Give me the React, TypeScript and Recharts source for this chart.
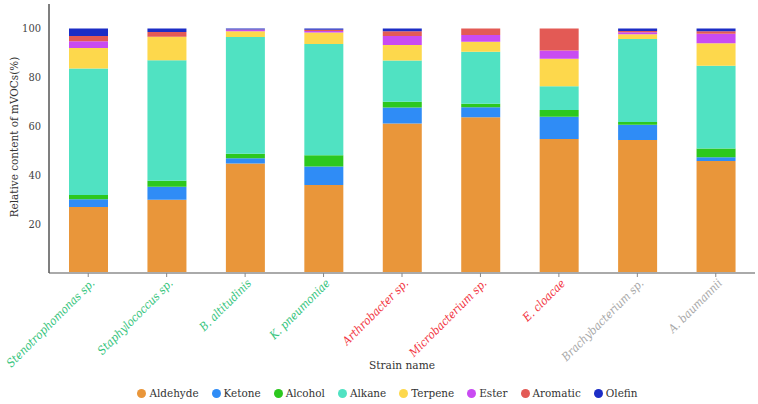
import { BarChart, Bar, XAxis, YAxis, Legend } from "recharts";

const strains = [
  "Stenotrophomonas sp.",
  "Staphylococcus sp.",
  "B. altitudinis",
  "K. pneumoniae",
  "Arthrobacter sp.",
  "Microbacterium sp.",
  "E. cloacae",
  "Brachybacterium sp.",
  "A. baumannii",
];
const strainColors = [
  "#34c47c", "#34c47c", "#34c47c", "#34c47c",
  "#f2353f", "#f2353f", "#f2353f",
  "#a8a8a8", "#a8a8a8",
];

const aldehyde = [27.0, 30.0, 44.8, 36.0, 61.1, 63.7, 54.8, 54.4, 45.8];
const ketone = [3.2, 5.3, 2.1, 7.6, 6.6, 4.1, 9.1, 6.2, 1.5];
const alcohol = [1.7, 2.4, 1.9, 4.5, 2.3, 1.4, 2.8, 1.1, 3.6];
const alkane = [51.7, 49.3, 47.7, 45.5, 16.9, 21.3, 9.7, 34.0, 33.9];
const terpene = [8.4, 9.6, 2.4, 4.7, 6.3, 4.1, 11.2, 1.9, 9.2];
const ester = [2.8, 0, 0.6, 0.7, 3.7, 2.7, 3.4, 0.8, 3.8];
const aromatic = [2.1, 2.0, 0.1, 0.5, 2.0, 2.7, 9.0, 0.6, 1.1];
const olefin = [3.1, 1.4, 0.4, 0.5, 1.1, 0, 0, 1.0, 1.1];

const yTicks = [20, 40, 60, 80, 100];

const series = [
  { key: "Aldehyde", values: aldehyde, color: "#e9963a" },
  { key: "Ketone", values: ketone, color: "#2f8cf6" },
  { key: "Alcohol", values: alcohol, color: "#2cc81e" },
  { key: "Alkane", values: alkane, color: "#50e2c2" },
  { key: "Terpene", values: terpene, color: "#fdd84c" },
  { key: "Ester", values: ester, color: "#c94bf2" },
  { key: "Aromatic", values: aromatic, color: "#e35a55" },
  { key: "Olefin", values: olefin, color: "#1c2dc6" },
];

const data = strains.map((name, i) => {
  const row: Record<string, string | number> = { name };
  series.forEach((s) => (row[s.key] = s.values[i]));
  return row;
});

// only DejaVu Serif resolves in the sandbox; the condensed cut is closest to Times widths
const FONT = "'DejaVu Serif Condensed', 'DejaVu Serif'";

function StrainTick(props: any) {
  const { x, y, payload } = props;
  const tx = x + 7;
  const ty = y + 5;
  return (
    <text
      x={tx}
      y={ty}
      transform={`rotate(-45, ${tx}, ${ty})`}
      textAnchor="end"
      fontStyle="italic"
      fontSize={11.6}
      style={{ fontFamily: FONT }}
      fill={strainColors[payload.index]}
    >
      {payload.value}
    </text>
  );
}

function YLabel() {
  return (
    <text
      x={18}
      y={137}
      transform="rotate(-90, 18, 137)"
      textAnchor="middle"
      fontSize={11.6}
      style={{ fontFamily: FONT }}
      fill="#333"
    >
      Relative content of mVOCs(%)
    </text>
  );
}

function LegendRow() {
  return (
    <div
      style={{
        width: 758,
        height: 22,
        display: "flex",
        justifyContent: "center",
        alignItems: "center",
        paddingLeft: 30,
        boxSizing: "border-box",
        fontFamily: FONT,
        fontSize: 11.6,
        color: "#333",
      }}
    >
      {series.map((s) => (
        <span key={s.key} style={{ display: "flex", alignItems: "center", marginRight: 13 }}>
          <span
            style={{
              width: 9,
              height: 9,
              borderRadius: "50%",
              background: s.color,
              marginRight: 3,
              display: "inline-block",
            }}
          />
          {s.key}
        </span>
      ))}
    </div>
  );
}

export default function App() {
  return (
    <div
      style={{
        position: "absolute",
        left: 0,
        top: 0,
        width: 758,
        height: 404,
        background: "#fff",
      }}
    >
      <BarChart
        width={758}
        height={404}
        data={data}
        margin={{ top: 4, right: 3, left: 0, bottom: 0 }}
        barSize={39}
      >
        <XAxis
          dataKey="name"
          interval={0}
          height={109}
          tick={<StrainTick />}
          tickSize={4}
          axisLine={{ stroke: "#aaaaaa", strokeWidth: 2 }}
          tickLine={{ stroke: "#888888" }}
          label={{
            value: "Strain name",
            position: "insideBottom",
            offset: 13,
            fill: "#333",
            fontSize: 11.8,
            style: { fontFamily: FONT },
          }}
        />
        <YAxis
          width={49}
          domain={[0, 110]}
          ticks={yTicks}
          tickLine={false}
          axisLine={{ stroke: "#555555", strokeWidth: 1.5 }}
          tick={{ fill: "#444", fontSize: 11, style: { fontFamily: FONT } }}
          label={YLabel}
        />
        <Legend verticalAlign="bottom" content={<LegendRow />} />
        {series.map((s) => (
          <Bar key={s.key} dataKey={s.key} stackId="a" fill={s.color} isAnimationActive={false} />
        ))}
      </BarChart>
    </div>
  );
}
